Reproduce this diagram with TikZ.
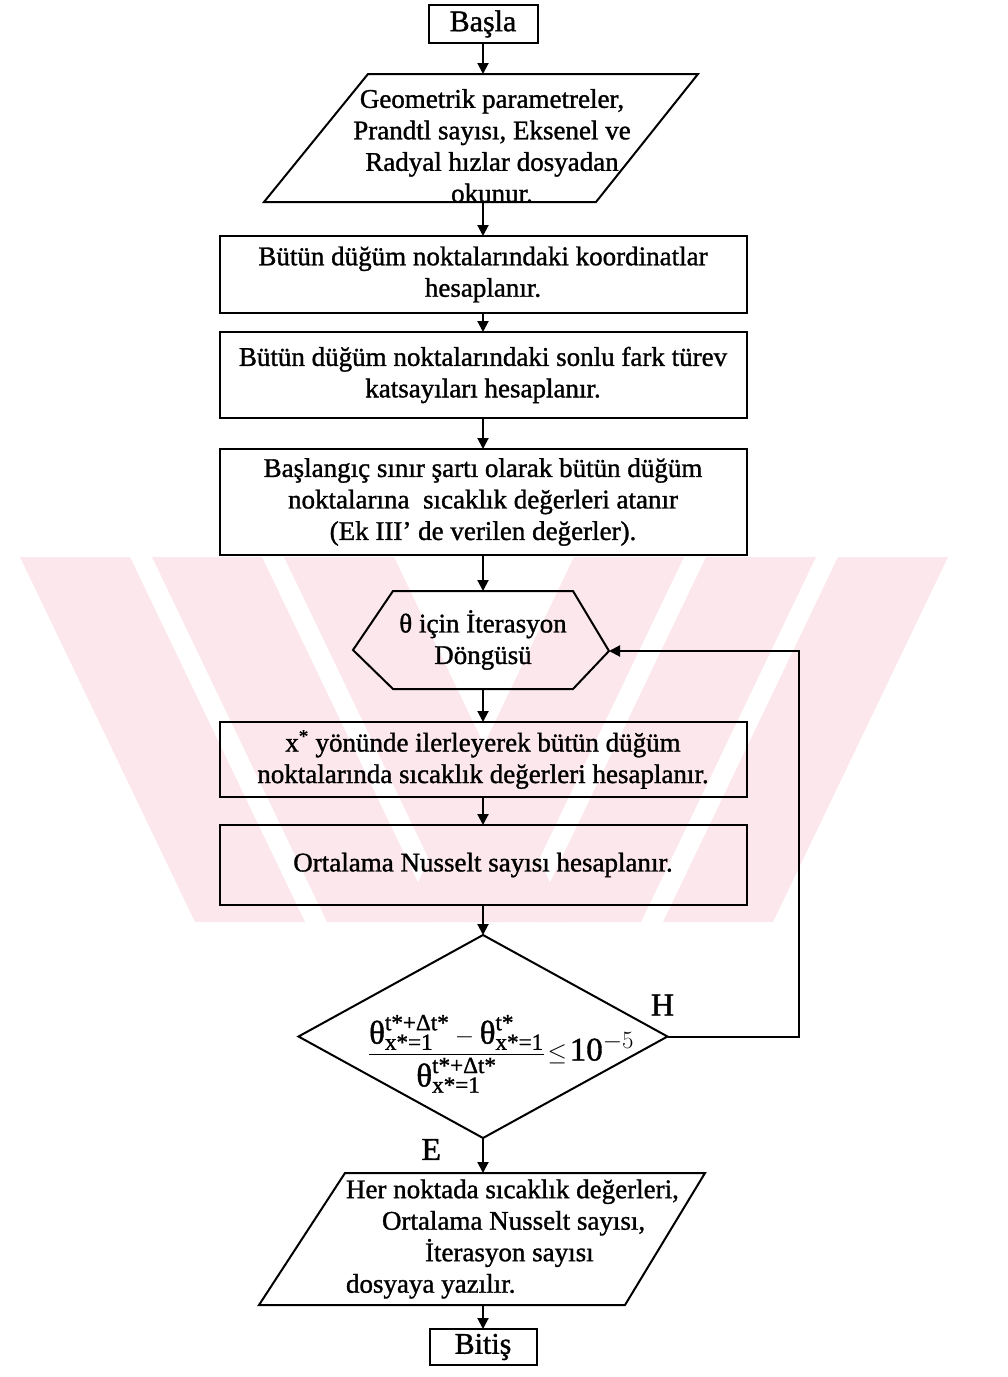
\documentclass[tikz,border=0pt]{standalone}
\usepackage{amsmath}
\usepackage{fontspec}
\setmainfont{Liberation Serif}[FakeBold=1.2]
\usetikzlibrary{positioning, arrows.meta, shapes.geometric, calc}
\definecolor{wmpink}{RGB}{252,231,236}
\newcommand{\thet}{\text{θ}}
\tikzset{
>={Triangle[width=11pt,length=11pt]},
every node/.append style={outer sep=0pt},
termbox/.style={draw, minimum width=109pt, minimum height=38pt, inner sep=0pt, font=\fontsize{30}{34}\selectfont},
iotext/.style={minimum width=330pt, inner sep=0pt, align=center},
procbox/.style={draw, minimum width=527pt, inner sep=0pt, align=center},
looptext/.style={minimum width=180pt, minimum height=98pt, inner sep=0pt, align=center},
decision/.style={diamond, draw, minimum width=369pt, minimum height=203pt, inner sep=0pt, font=\fontsize{33}{38}\selectfont},
answer/.style={inner sep=0pt, font=\fontsize{32}{36}\selectfont},
}

\begin{document}
\begin{tikzpicture}[x=1pt, y=1pt, line width=2pt, font=\fontsize{27}{31.5}\selectfont]
            \useasboundingbox (0,0) rectangle (1008,-1377);

            % watermark behind the chart
            \begin{scope}
                \clip (0,-557) rectangle (1008,-922);
                \foreach \s in {20,152,284}
                    \fill[wmpink] (\s,-557) -- ++(110,0) -- ++(175,-365) -- ++(-110,0) -- cycle;
                \foreach \s in {574,706,838}
                    \fill[wmpink] (\s,-557) -- ++(110,0) -- ++(-175,-365) -- ++(-110,0) -- cycle;
            \end{scope}

            \node[termbox] (S) at (483,-24) {Başla};
            \node[iotext, below=31pt of S, minimum height=128pt] (R) {\hspace*{18pt}\raisebox{-17pt}[0pt][0pt]{\begin{tabular}{@{}c@{}}Geometrik parametreler,\\Prandtl sayısı, Eksenel ve\\Radyal hızlar dosyadan\\okunur.\end{tabular}}};
            \draw[shift={(R.center)}] (-115,64) -- (215,64) -- (113,-64) -- (-219,-64) -- cycle;
            \node[procbox, below=34pt of R, minimum height=77pt] (K) {Bütün düğüm noktalarındaki koordinatlar\\hesaplanır.};
            \node[procbox, below=19pt of K, minimum height=86pt] (F) {Bütün düğüm noktalarındaki sonlu fark türev\\katsayıları hesaplanır.};
            \node[procbox, below=31pt of F, minimum height=106pt] (A) {Başlangıç sınır şartı olarak bütün düğüm\\noktalarına \ sıcaklık değerleri atanır\\(Ek III’ de verilen değerler).};

            % loop head
            \node[looptext, below=36pt of A] (D) {θ için İterasyon\\Döngüsü};
            \coordinate (DE) at ([shift={(36pt,-11pt)}]D.east);
            \coordinate (DW) at ([shift={(-40pt,-10pt)}]D.west);
            \draw (D.north west) -- (D.north east) -- (DE) -- (D.south east) -- (D.south west) -- (DW) -- cycle;

            \node[procbox, below=33pt of D, minimum height=75pt] (X) {x\textsuperscript{*} yönünde ilerleyerek bütün düğüm\\noktalarında sıcaklık değerleri hesaplanır.};
            \node[procbox, below=28pt of X, minimum height=80pt] (N) {Ortalama Nusselt sayısı hesaplanır.};
            \node[decision, below=30pt of N] (C) {\raisebox{-24pt}[0pt][0pt]{\makebox[0pt]{\hspace{36pt}$\dfrac{\thet^{\text{t*+Δt*}}_{\text{x*=1}}-\thet^{\text{t*}}_{\text{x*=1}}}{\thet^{\text{t*+Δt*}}_{\text{x*=1}}}\!\le\!\text{10}^{-5}$}}};
            \node[iotext, below=35pt of C, minimum height=132pt, text width=420pt, align=flush left] (W) {\hspace*{73pt}Her noktada sıcaklık değerleri,\\\hspace*{109pt}Ortalama Nusselt sayısı,\\\hspace*{152pt}İterasyon sayısı\\\hspace*{73pt}dosyaya yazılır.};
            \draw[shift={(W.center)}] (-138,66) -- (222,66) -- (142,-66) -- (-224,-66) -- cycle;
            \node[termbox, below=24pt of W, minimum width=107pt, minimum height=36pt] (B) {Bitiş};

            % main flow
            \draw[->] (S) -- (R);
            \draw[->] (R) -- (K);
            \draw[->] (K) -- (F);
            \draw[->] (F) -- (A);
            \draw[->] (A) -- (D);
            \draw[->] (D) -- (X);
            \draw[->] (X) -- (N);
            \draw[->] (N) -- (C);
            \draw[->] (C) -- (W);
            \draw[->] (W) -- (B);

            % back to the loop
            \draw[->] (C.east) -- ++(131pt,0) |- (DE);
            \node[answer, above=21pt of C.east, xshift=-5pt] (H) {H};
            \node[answer, below left=1pt and 42pt of C.south] (E) {E};
\end{tikzpicture}
\end{document}
